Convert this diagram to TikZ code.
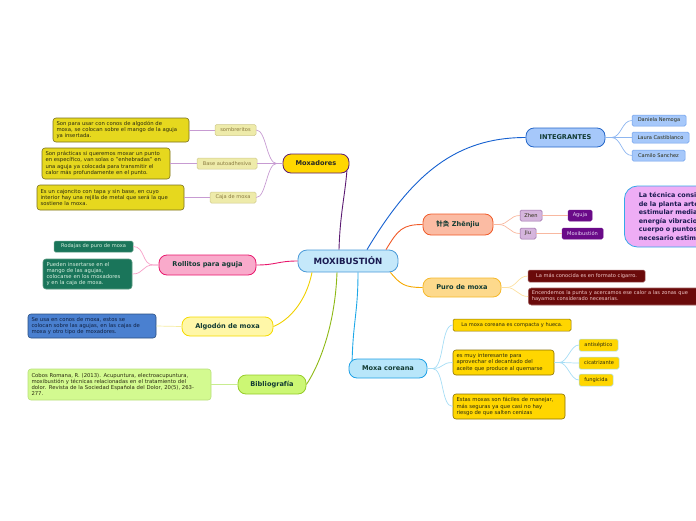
\documentclass[tikz,border=0pt]{standalone}
\usepackage{fontspec}
\setmainfont{DejaVu Sans}
\newfontfamily\cjkfont{Noto Sans CJK SC}
\definecolor{toptext}{HTML}{123B33}
\definecolor{notetext}{HTML}{2A2A10}
\definecolor{cfill}{HTML}{C5E8FA}\definecolor{cline}{HTML}{4A9AD8}
\definecolor{mxfill}{HTML}{FFD700}\definecolor{mxline}{HTML}{5B1A72}
\definecolor{mxsfill}{HTML}{EEEBAA}\definecolor{mxsline}{HTML}{CFC98A}\definecolor{mxstext}{HTML}{8A7A40}
\definecolor{mxcon}{HTML}{C79BD2}
\definecolor{ynfill}{HTML}{E6D81E}\definecolor{ynline}{HTML}{7A7020}
\definecolor{rofill}{HTML}{F9AACB}\definecolor{roline}{HTML}{E8186D}\definecolor{rocon}{HTML}{F7A0C8}
\definecolor{gnfill}{HTML}{1A755A}\definecolor{gnline}{HTML}{5A9A80}\definecolor{gntext}{HTML}{D8F0E0}
\definecolor{alfill}{HTML}{FFF7A8}\definecolor{alline}{HTML}{F5DA00}\definecolor{alcon}{HTML}{F0D000}\definecolor{alscon}{HTML}{F5EBA0}
\definecolor{bnfill}{HTML}{4A80D0}\definecolor{bnline}{HTML}{2B4F80}\definecolor{bntext}{HTML}{102040}
\definecolor{bifill}{HTML}{CCF774}\definecolor{biline}{HTML}{96CC2A}\definecolor{bicon}{HTML}{8DB814}\definecolor{biscon}{HTML}{C8EC90}
\definecolor{bnnfill}{HTML}{D3FA90}\definecolor{bnnline}{HTML}{B8E07A}
\definecolor{infill}{HTML}{A6C8FA}\definecolor{inline}{HTML}{2466C8}\definecolor{incon}{HTML}{1560D0}
\definecolor{insline}{HTML}{6D9EEB}\definecolor{inscon}{HTML}{8EB6F0}
\definecolor{zhfill}{HTML}{FBBBA3}\definecolor{zhline}{HTML}{F05A28}\definecolor{zhscon}{HTML}{F8B8A0}
\definecolor{lvfill}{HTML}{D5B5DD}\definecolor{lvline}{HTML}{9A6AA8}
\definecolor{pufill}{HTML}{6A0A88}\definecolor{putext}{HTML}{E8D8F5}
\definecolor{pkfill}{HTML}{EEADF5}\definecolor{pkline}{HTML}{35A8E8}\definecolor{pktext}{HTML}{1A1A50}
\definecolor{prfill}{HTML}{FDD98C}\definecolor{prline}{HTML}{F5B82A}\definecolor{prcon}{HTML}{F5A800}\definecolor{prscon}{HTML}{FCE0A0}
\definecolor{rdfill}{HTML}{6A0A0A}\definecolor{rdline}{HTML}{A06060}\definecolor{rdtext}{HTML}{F0C8C8}
\definecolor{kofill}{HTML}{B8E6FA}\definecolor{koline}{HTML}{1EA0E6}\definecolor{kocon}{HTML}{1EA8E8}\definecolor{koscon}{HTML}{A6DDF5}
\definecolor{gofill}{HTML}{FFD600}\definecolor{goline}{HTML}{8A7000}
\begin{document}
\begin{tikzpicture}[x=1pt,y=-1pt,
  topic/.style={draw, line width=0.8pt, rounded corners=8pt, minimum height=19pt, inner sep=0pt,
    font=\fontsize{6.6}{8}\selectfont\bfseries, text=toptext},
  tag/.style={draw, line width=0.5pt, rounded corners=1.5pt, inner sep=0pt, minimum height=11pt,
    font=\fontsize{5.1}{6}\selectfont},
  note/.style={draw, line width=0.6pt, rounded corners=3pt, inner xsep=3.5pt, inner ysep=1pt,
    align=left, font=\fontsize{5.3}{6.3}\selectfont, text=notetext},
  con/.style={line width=0.9pt},
  scon/.style={line width=0.7pt}]
\useasboundingbox (0,0) rectangle (696,520);

% central
\node[draw=cline, fill=cfill, line width=0.8pt, rounded corners=9pt, minimum width=100pt, minimum height=22pt,
  inner sep=0pt, font=\fontsize{8.6}{10}\selectfont\bfseries, text=pktext] (center) at (348,261) {MOXIBUSTIÓN};

% Moxadores
\node[topic, draw=mxline, fill=mxfill, minimum width=66pt, text=black!85] (mox) at (316,163.5) {Moxadores};
\node[tag, draw=mxsline, fill=mxsfill, text=mxstext, minimum width=41pt] (somb) at (235.5,130) {sombreritos};
\node[tag, draw=mxsline, fill=mxsfill, text=mxstext, minimum width=60pt] (base) at (227,163.5) {Base autoadhesiva};
\node[tag, draw=mxsline, fill=mxsfill, text=mxstext, minimum width=46pt] (caja) at (233,197.5) {Caja de moxa};
\node[note, draw=ynline, fill=ynfill, text width=129pt, minimum height=24pt] (n1) at (121,130)
  {Son para usar con conos de algodón de\\moxa, se colocan sobre el mango de la aguja\\ya insertada.};
\node[note, draw=ynline, fill=ynfill, text width=121pt, minimum height=31pt] (n2) at (106,163.5)
  {Son prácticas si queremos moxar un punto\\en específico, van solas o "enhebradas" en\\una aguja ya colocada para transmitir el\\calor más profundamente en el punto.};
\node[note, draw=ynline, fill=ynfill, text width=140pt, minimum height=25pt] (n3) at (110.5,197.5)
  {Es un cajoncito con tapa y sin base, en cuyo\\interior hay una rejilla de metal que será la que\\sostiene la moxa.};

% Rollitos
\node[topic, draw=roline, fill=rofill, minimum width=97pt, minimum height=20pt] (rol) at (207.5,265) {Rollitos para aguja};
\node[tag, draw=gnline, fill=gnfill, text=gntext, minimum width=79pt] (rod) at (93.5,246.5) {Rodajas de puro de moxa};
\node[note, draw=gnline, fill=gnfill, text=gntext, text width=82pt, minimum height=30pt] (pue) at (87.5,274)
  {Pueden insertarse en el\\mango de las agujas,\\colocarse en los moxadores\\y en la caja de moxa.};

% Algodon
\node[topic, draw=alline, fill=alfill, minimum width=91pt] (alg) at (227.5,326.5) {Algodón de moxa};
\node[note, draw=bnline, fill=bnfill, text=bntext, text width=121pt, minimum height=24pt] (seu) at (92,326)
  {Se usa en conos de moxa, estos se\\colocan sobre las agujas, en las cajas de\\moxa y otro tipo de moxadores.};

% Bibliografia
\node[topic, draw=biline, fill=bifill, minimum width=68pt] (bib) at (272,384.5) {Bibliografía};
\node[note, draw=bnnline, fill=bnnfill, text width=176pt, minimum height=31pt] (cob) at (119.5,384.5)
  {Cobos Romana, R. (2013). Acupuntura, electroacupuntura,\\moxibustión y técnicas relacionadas en el tratamiento del\\dolor. Revista de la Sociedad Española del Dolor, 20(5), 263-\\277.};

% Integrantes
\node[topic, draw=inline, fill=infill, minimum width=79pt] (int) at (565.5,137.5) {INTEGRANTES};
\node[tag, draw=insline, fill=infill, text=notetext, minimum width=54pt] (dan) at (659,120.5) {Daniela Nemoga};
\node[tag, draw=insline, fill=infill, text=notetext, minimum width=57pt] (lau) at (660.5,137.5) {Laura Castiblanco};
\node[tag, draw=insline, fill=infill, text=notetext, minimum width=53pt] (cam) at (658.5,155.5) {Camilo Sanchez};

% Zhenjiu
\node[topic, draw=zhline, fill=zhfill, minimum width=70pt, minimum height=21pt] (zhe) at (458,224.5) {{\cjkfont 针灸} Zhēnjiu};
\node[tag, draw=lvline, fill=lvfill, text=notetext, minimum width=22pt] (zh) at (531,215.5) {Zhen};
\node[tag, draw=lvline, fill=lvfill, text=notetext, minimum width=16pt] (ji) at (528,233.5) {Jiu};
\node[tag, draw=pufill, fill=pufill, text=putext, minimum width=24pt] (agu) at (580,215.5) {Aguja};
\node[tag, draw=pufill, fill=pufill, text=putext, minimum width=41pt] (mxb) at (582.5,233.5) {Moxibustión};
\node[draw=pkline, fill=pkfill, line width=0.8pt, rounded corners=13pt, anchor=west, minimum height=61pt,
  text width=130pt, inner xsep=14.5pt, align=left, text=pktext,
  font=\fontsize{6.4}{8.6}\selectfont\bfseries] (pk) at (624,216.5)
  {La técnica consiste\\de la planta artemisa\\estimular mediante\\energía vibracional\\cuerpo o puntos\\necesario estimular};

% Puro de moxa
\node[topic, draw=prline, fill=prfill, minimum width=78pt] (pur) at (462,287.5) {Puro de moxa};
\node[tag, draw=rdline, fill=rdfill, text=rdtext, minimum width=117pt, minimum height=12pt] (lam) at (586.5,276) {La más conocida es en formato cigarro.};
\node[note, draw=rdline, fill=rdfill, text=rdtext, anchor=west, text width=200pt, minimum height=17pt,
  font=\fontsize{5.1}{5.9}\selectfont] (enc) at (528,296.5)
  {Encendemos la punta y acercamos ese calor a las zonas que\\hayamos considerado necesarias.};

% Moxa coreana
\node[topic, draw=koline, fill=kofill, minimum width=78pt] (kor) at (388,368.5) {Moxa coreana};
\node[tag, draw=goline, fill=gofill, text=notetext, minimum width=118pt, minimum height=12pt] (lmo) at (512,325) {La moxa coreana es compacta y hueca.};
\node[note, draw=goline, fill=gofill, text width=94pt, minimum height=25pt] (esm) at (503.5,362.5)
  {es muy interesante para\\aprovechar el decantado del\\aceite que produce al quemarse};
\node[note, draw=goline, fill=gofill, text width=105pt, minimum height=25pt] (est) at (509,406.5)
  {Estas moxas son fáciles de manejar,\\más seguras ya que casi no hay\\riesgo de que salten cenizas};
\node[tag, draw=koscon, fill=gofill, text=notetext, minimum width=39pt, minimum height=12pt] (ant) at (598.5,345) {antiséptico};
\node[tag, draw=koscon, fill=gofill, text=notetext, minimum width=40pt, minimum height=12pt] (cic) at (599,363) {cicatrizante};
\node[tag, draw=koscon, fill=gofill, text=notetext, minimum width=34pt, minimum height=12pt] (fun) at (596,380) {fungicida};

% main connectors
\draw[con, mxline] ([xshift=-9pt]center.north) .. controls +(1,-35) and +(-2,25) .. ([xshift=-2.5pt,yshift=2.5pt]mox.south east);
\draw[con, incon] ([xshift=19pt]center.north) .. controls +(45,-75) and +(-70,0) .. (int.west);
\draw[con, zhline] ([xshift=38pt]center.north) .. controls +(12,-20) and +(-20,0) .. (zhe.west);
\draw[con, prcon] ([xshift=-8pt]center.south east) .. controls +(10,12) and +(-18,0) .. (pur.west);
\draw[con, kocon] ([xshift=10pt]center.south) .. controls +(0,40) and +(1,-40) .. ([xshift=3.5pt,yshift=-2.5pt]kor.north west);
\draw[con, bicon] ([xshift=-11pt]center.south) .. controls +(-2,55) and +(12,-18) .. (bib.east);
\draw[con, alcon] ([xshift=-36pt]center.south) .. controls +(-6,30) and +(15,-6) .. (alg.east);
\draw[con, roline] (center.west) .. controls +(-20,0) and +(20,0) .. (rol.east);

% sub connectors
\foreach \c in {somb,base,caja}
  \draw[scon, mxcon] (mox.west) -- ++(-6,0) .. controls +(-10,0) and +(10,0) .. (\c.east);
\draw[scon, mxcon] (somb.west) -- (n1.east);
\draw[scon, mxcon] (base.west) -- (n2.east);
\draw[scon, mxcon] (caja.west) -- (n3.east);
\foreach \c in {rod,pue}
  \draw[scon, rocon] (rol.west) -- ++(-5,0) .. controls +(-12,0) and +(12,0) .. (\c.east);
\draw[scon, alscon] (alg.west) -- (seu.east);
\draw[scon, biscon] (bib.west) -- (cob.east);
\foreach \c in {dan,lau,cam}
  \draw[scon, inscon] (int.east) -- ++(6,0) .. controls +(10,0) and +(-10,0) .. (\c.west);
\foreach \c in {zh,ji}
  \draw[scon, zhscon] (zhe.east) -- ++(5,0) .. controls +(10,0) and +(-10,0) .. (\c.west);
\draw[scon, zhscon] (zh.east) -- (agu.west);
\draw[scon, zhscon] (ji.east) -- (mxb.west);
\foreach \c in {lam,enc}
  \draw[scon, prscon] (pur.east) -- ++(5,0) .. controls +(10,0) and +(-10,0) .. (\c.west);
\foreach \c in {lmo,esm,est}
  \draw[scon, koscon] (kor.east) -- ++(5,0) .. controls +(12,0) and +(-12,0) .. (\c.west);
\foreach \c in {ant,cic,fun}
  \draw[scon, koscon] (esm.east) -- ++(5,0) .. controls +(8,0) and +(-8,0) .. (\c.west);
\end{tikzpicture}
\end{document}
